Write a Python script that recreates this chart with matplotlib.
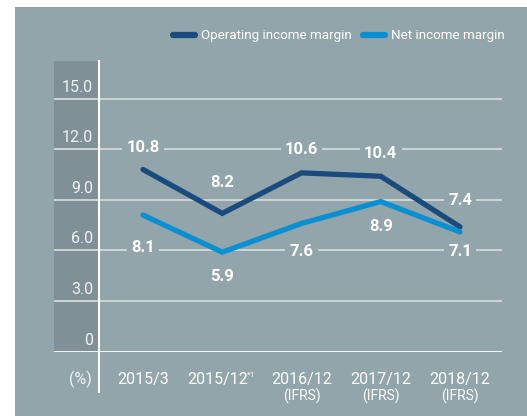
import numpy as np
import matplotlib.pyplot as plt
from matplotlib.patches import Rectangle

# Data
periods = ['2015/3', '2015/12', '2016/12', '2017/12', '2018/12']
ifrs = [False, False, True, True, True]
operating_margin = [10.8, 8.2, 10.6, 10.4, 7.4]
net_margin = [8.1, 5.9, 7.6, 8.9, 7.1]
yticks = [0, 3.0, 6.0, 9.0, 12.0, 15.0]
ytick_labels = ['0', '3.0', '6.0', '9.0', '12.0', '15.0']

# label offsets in pixels (relative to point)
op_offsets = [22, 31, 23, 23, 26]
net_offsets = [-32, -24, -28, -25, -20]

panel = '#92a5aa'
strip = '#7f9197'
grid = '#d3d8da'
dark_blue = '#1a4b7e'
light_blue = '#0a90d2'
txt = '#ffffff'
plt.rcParams['font.family'] = ['Roboto', 'DejaVu Sans']

W, H = 527, 416
fig = plt.figure(figsize=(W / 100, H / 100), dpi=100)
fig.patch.set_facecolor('white')
fig.patches.append(Rectangle((15 / W, 0), 1, (H - 7) / H, transform=fig.transFigure,
                             facecolor=panel, edgecolor='none', zorder=-1))

# axes in pixel coords
left, right, top, bottom = 54, 502, 61, 351.7
ax = fig.add_axes([left / W, (H - bottom) / H, (right - left) / W, (bottom - top) / H])
ax.set_facecolor('none')
px_unit = 16.87
x = np.arange(len(periods))
step = 79.25
ax.set_xlim((left - 143) / step, (right - 143) / step)
ax.set_ylim(0, (bottom - top) / px_unit)
for s in ax.spines.values():
    s.set_visible(False)
ax.set_xticks([])
ax.set_yticks([])

vx = (99 - 143) / step
ax.add_patch(Rectangle((ax.get_xlim()[0], 0), vx - ax.get_xlim()[0], ax.get_ylim()[1],
                       facecolor=strip, edgecolor='none', zorder=1))
for t in yticks[1:]:
    ax.axhline(t, color=grid, lw=1.3, zorder=2)
ax.axhline(0, color='white', lw=2, zorder=3)
ax.plot([vx, vx], [ax.get_ylim()[1], -40 / px_unit], color='white', lw=1.5,
        zorder=3, clip_on=False)

for t, lab in zip(yticks, ytick_labels):
    ax.annotate(lab, (vx, t), xytext=(-6, 4), textcoords='offset pixels',
                ha='right', va='bottom', color='#eef2f3', fontsize=11.5, zorder=4)

l1, = ax.plot(x, operating_margin, color=dark_blue, lw=3.8, solid_capstyle='round',
              solid_joinstyle='miter', zorder=5, label='Operating income margin')
l2, = ax.plot(x, net_margin, color=light_blue, lw=3.8, solid_capstyle='round',
              solid_joinstyle='miter', zorder=5, label='Net income margin')

bbox = dict(boxstyle='square,pad=0.25', facecolor=panel, edgecolor='none')
for xi, v, off in zip(x, operating_margin, op_offsets):
    ax.annotate(f'{v:.1f}', (xi, v), xytext=(0, off), textcoords='offset pixels',
                ha='center', va='center', color=txt, fontsize=12, fontweight='bold',
                bbox=bbox, zorder=6)
for xi, v, off in zip(x, net_margin, net_offsets):
    ax.annotate(f'{v:.1f}', (xi, v), xytext=(0, off), textcoords='offset pixels',
                ha='center', va='center', color=txt, fontsize=12, fontweight='bold',
                bbox=bbox, zorder=6)

# x labels
tr = ax.get_xaxis_transform()
for xi, p, f in zip(x, periods, ifrs):
    if p == '2015/12':
        ax.annotate(p, (xi, 0), xycoords=tr, xytext=(-5, -28), textcoords='offset pixels',
                    ha='center', va='center', color=txt, fontsize=11.5)
        ax.annotate('*1', (xi, 0), xycoords=tr, xytext=(25, -23), textcoords='offset pixels',
                    ha='left', va='center', color=txt, fontsize=6)
    else:
        ax.annotate(p, (xi, 0), xycoords=tr, xytext=(0, -28), textcoords='offset pixels',
                    ha='center', va='center', color=txt, fontsize=11.5)
    if f:
        ax.annotate('(IFRS)', (xi, 0), xycoords=tr, xytext=(0, -45), textcoords='offset pixels',
                    ha='center', va='center', color=txt, fontsize=10)
ax.annotate('(%)', (vx, 0), xycoords=tr, xytext=(-7, -28), textcoords='offset pixels',
            ha='right', va='center', color='#eef2f3', fontsize=11.5)

leg = ax.legend(handles=[l1, l2], loc='center left', bbox_to_anchor=(166 / W, 1 - 36 / H),
                bbox_transform=fig.transFigure, ncol=2, frameon=False, fontsize=9.6,
                handlelength=1.7, handletextpad=0.45, columnspacing=0.8, borderpad=0)
for t in leg.get_texts():
    t.set_color(txt)
for h in leg.get_lines():
    h.set_linewidth(4.5)
    h.set_solid_capstyle('round')

fig.savefig('out.png', dpi=100)
